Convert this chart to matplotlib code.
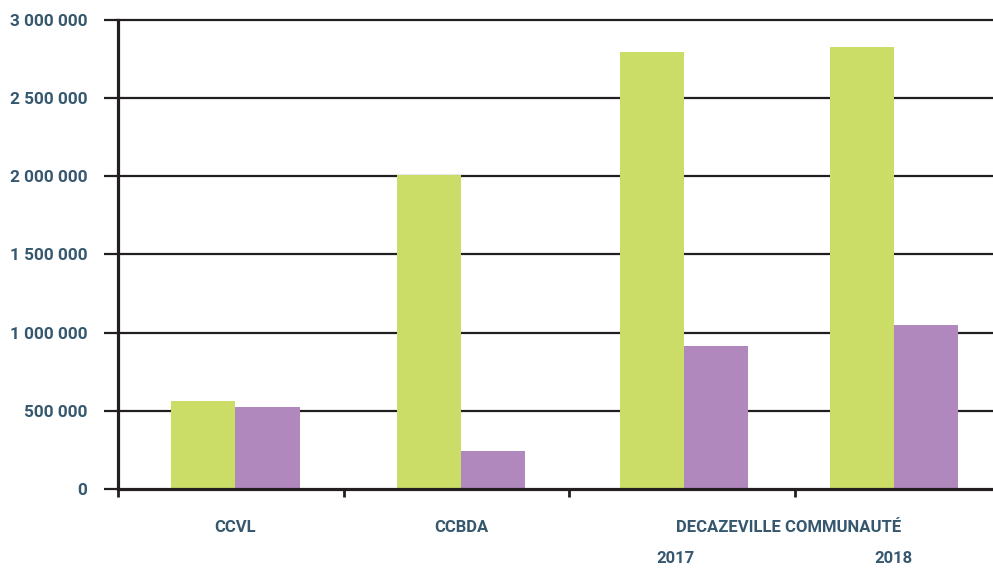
import numpy as np
import matplotlib.pyplot as plt
from matplotlib.ticker import FuncFormatter, FixedLocator
import matplotlib.transforms as mtransforms

plt.rcParams['font.family'] = ['Roboto', 'DejaVu Sans']

groups = ['CCVL', 'CCBDA', '2017', '2018']
vert = [563000, 2008000, 2795000, 2827000]
violet = [524000, 243000, 917000, 1049000]
yticks = [0, 500000, 1000000, 1500000, 2000000, 2500000, 3000000]

txt_col = '#36586f'
ink = '#231f20'

fig = plt.figure(figsize=(9.93, 5.68), dpi=100)
ax = fig.add_axes([0.119, 0.139, 0.881, 0.826])

x = np.array([0.02, 1.02, 2.01, 2.94])
w = 0.285
ax.bar(x - w / 2, vert, w, color='#cbdd67', zorder=3)
ax.bar(x + w / 2, violet, w, color='#b088bd', zorder=3)

ax.set_xlim(-0.5, 3.38)
ax.set_ylim(0, 3000000)

# grille horizontale
for v in yticks[1:]:
    ax.axhline(v, color=ink, lw=1.6, zorder=1, clip_on=False)

ax.yaxis.set_major_locator(FixedLocator(yticks))
ax.yaxis.set_major_formatter(FuncFormatter(lambda v, p: f'{int(v):,}'.replace(',', ' ')))
ax.tick_params(axis='y', length=10, width=1.6, color=ink, pad=12,
               labelsize=12.4, labelcolor=txt_col)
for lab in ax.get_yticklabels():
    lab.set_fontweight('bold')

ax.xaxis.set_major_locator(FixedLocator([-0.5, 0.5, 1.5, 2.5]))
ax.set_xticklabels([])
ax.tick_params(axis='x', length=6, width=2, color=ink)

for s in ['top', 'right']:
    ax.spines[s].set_visible(False)
ax.spines['left'].set_linewidth(2.3)
ax.spines['bottom'].set_linewidth(2.3)
ax.spines['left'].set_color(ink)
ax.spines['bottom'].set_color(ink)
ax.spines['left'].set_zorder(4)
ax.spines['bottom'].set_zorder(4)

trans = mtransforms.blended_transform_factory(ax.transData, ax.transAxes)
row1 = -38 / 469
row2 = -69 / 469
kw = dict(transform=trans, ha='center', va='center', fontsize=12,
          fontweight='bold', color=txt_col)
ax.text(x[0], row1, groups[0], **kw)
ax.text(x[1], row1, groups[1], **kw)
ax.text((x[2] + x[3]) / 2, row1, 'DECAZEVILLE COMMUNAUTÉ', **kw)
ax.text(x[2] - 0.04, row2, groups[2], **kw)
ax.text(x[3], row2, groups[3], **kw)

fig.savefig('out.png', dpi=100)
